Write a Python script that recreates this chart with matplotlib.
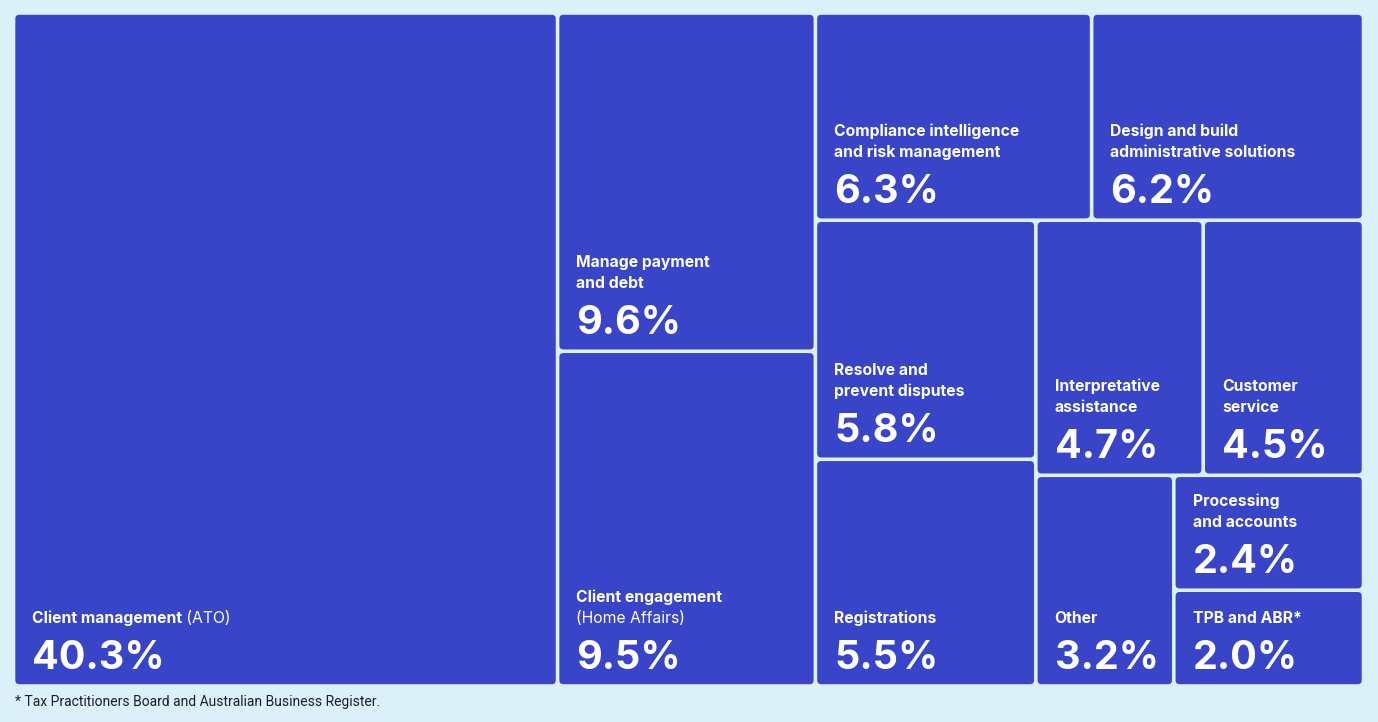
import matplotlib.pyplot as plt
from matplotlib.patches import FancyBboxPatch

# shares of spend (%), one per tile
names = ["Client management", "Manage payment\nand debt", "Client engagement",
         "Compliance intelligence\nand risk management", "Design and build\nadministrative solutions",
         "Resolve and\nprevent disputes", "Registrations", "Interpretative\nassistance",
         "Customer\nservice", "Other", "Processing\nand accounts", "TPB and ABR*"]
extras = [" (ATO)", "", "\n(Home Affairs)", "", "", "", "", "", "", "", "", ""]
values = [40.3, 9.6, 9.5, 6.3, 6.2, 5.8, 5.5, 4.7, 4.5, 3.2, 2.4, 2.0]

# slice-and-dice arrangement: 'h' = side by side, 'v' = stacked
tree = ('h', [0, ('v', [1, 2]),
              ('v', [('h', [3, 4]),
                     ('h', [('v', [5, 6]),
                            ('v', [('h', [7, 8]),
                                   ('h', [9, ('v', [10, 11])])])])])])

footnote = "* Tax Practitioners Board and Australian Business Register."

BG = "#dcf0fa"
TILE = "#3945c9"
FONT = ["Inter", "DejaVu Sans"]


def total(node):
    if isinstance(node, int):
        return values[node]
    return sum(total(c) for c in node[1])


def layout(node, x, y, w, h, out):
    if isinstance(node, int):
        out[node] = (x, y, w, h)
        return
    d, kids = node
    s = total(node)
    for k in kids:
        f = total(k) / s
        if d == 'h':
            layout(k, x, y, w * f, h, out)
            x += w * f
        else:
            layout(k, x, y, w, h * f, out)
            y += h * f


fig = plt.figure(figsize=(13.78, 7.22), dpi=100, facecolor=BG)
W, H = 1350, 673
ax = fig.add_axes([13.5 / 1378, (722 - 686) / 722, W / 1378, H / 722])
ax.set_xlim(0, W)
ax.set_ylim(H, 0)
ax.axis("off")

rects = {}
layout(tree, 0, 0, W, H, rects)
gap = 1.8
renderer = fig.canvas.get_renderer()

for i, (x, y, w, h) in rects.items():
    ax.add_patch(FancyBboxPatch((x + gap, y + gap), w - 2 * gap, h - 2 * gap,
                                boxstyle="round,pad=0,rounding_size=4",
                                fc=TILE, ec="none"))
    tx = x + gap + 17
    base = y + h - gap - 15
    ax.text(tx, base, f"{values[i]:.1f}%", color="white", fontsize=28.5,
            fontweight="bold", family=FONT, va="baseline", ha="left")
    lines = [(t, "bold") for t in names[i].split("\n")]
    inline = None
    ex = extras[i]
    if ex.startswith("\n"):
        lines.append((ex[1:], "normal"))
    elif ex:
        inline = ex
    lb = base - 46.5
    for j, (t, wgt) in enumerate(reversed(lines)):
        txt = ax.text(tx, lb - 20.5 * j, t, color="white", fontsize=11.3,
                      fontweight=wgt, family=FONT, va="baseline", ha="left")
        if inline and j == 0:
            bb = txt.get_window_extent(renderer)
            x_end = ax.transData.inverted().transform((bb.x1, bb.y0))[0]
            ax.text(x_end, lb, inline, color="white", fontsize=11.3,
                    fontweight="normal", family=FONT, va="baseline", ha="left")

fig.text(15 / 1378, 1 - 706 / 722, footnote, fontsize=10, color="#1d1d2b",
         family=["Roboto", "DejaVu Sans"], ha="left", va="baseline")

fig.savefig("out.png", dpi=100, facecolor=BG)
